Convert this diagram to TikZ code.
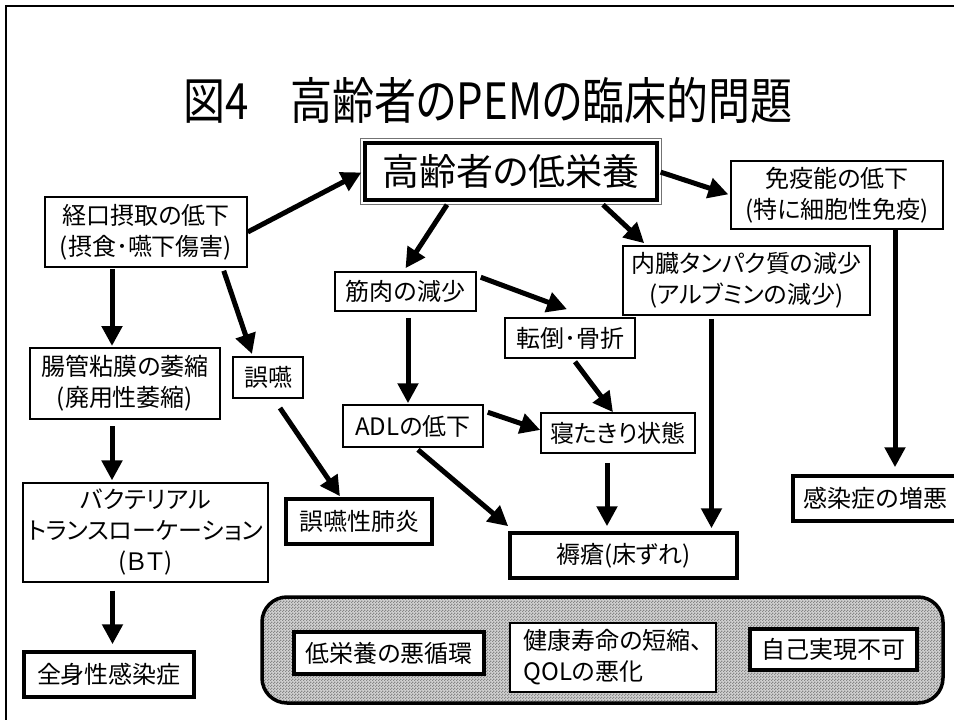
\documentclass[tikz,border=0pt]{standalone}
\usepackage{fontspec}
\setmainfont[RawFeature={+palt}]{Noto Sans CJK JP}
\usetikzlibrary{arrows.meta,calc,patterns}
\pgfdeclarepatternformonly{finechecker}{\pgfpointorigin}{\pgfqpoint{3pt}{3pt}}{\pgfqpoint{3pt}{3pt}}{%
  \pgfpathrectangle{\pgfpointorigin}{\pgfqpoint{1.55pt}{1.55pt}}%
  \pgfpathrectangle{\pgfqpoint{1.5pt}{1.5pt}}{\pgfqpoint{1.55pt}{1.55pt}}%
  \pgfusepath{fill}}
\begin{document}
\begin{tikzpicture}[x=1pt,y=-1pt,
  bx/.style={draw=black, line width=1.5pt, fill=white, align=center, inner sep=0pt,
             font=\fontsize{24pt}{31pt}\selectfont},
  thk/.style={bx, line width=3.5pt},
  sz/.style 2 args={minimum width=#1pt, minimum height=#2pt},
  arr/.style={line width=5pt, -{Triangle[length=20pt,width=20pt]}},
  ttl/.style={inner sep=0pt, font=\fontsize{50pt}{60pt}\selectfont},
]
\fill[white] (0,0) rectangle (954,720);
\clip (0,0) rectangle (954,720);
% frame
\draw[line width=2.5pt] (6,740) -- (6,6) -- (970,6);

% title
\node[ttl] (title) at (488,100) {\scalebox{0.84}[1]{図4　高齢者のPEMの臨床的問題}};

% central node
\node[bx, sz={292}{57}, line width=3.5pt, font=\fontsize{37pt}{44pt}\selectfont] (top) at (511,171.5) {高齢者の低栄養};
\draw[line width=1.2pt, black!55] ($(top.north west)+(-3,-3)$) rectangle ($(top.south east)+(3,3)$);

% left column
\node[bx, sz={202}{70}] (keiko) at (146,232) {経口摂取の低下\\(摂食･嚥下傷害)};
\node[bx, sz={190}{71}, line width=2pt] (choukan) at (125,383.5) {腸管粘膜の萎縮\\(廃用性萎縮)};
\node[bx, sz={70}{41}, line width=2pt] (goen) at (268,377.5) {誤嚥};
\node[bx, sz={245}{99}, line width=1.2pt] (bt) at (145.5,532.5) {バクテリアル\\トランスローケーション\\(ＢＴ)};
\node[thk, sz={170}{45}] (zenshin) at (109,674.5) {全身性感染症};
\node[thk, sz={146}{45}] (haien) at (359,521.5) {誤嚥性肺炎};

% middle
\node[bx, sz={141}{39}] (kinniku) at (405.5,291.5) {筋肉の減少};
\node[bx, sz={130}{40}] (tentou) at (570,338) {転倒･骨折};
\node[bx, sz={140}{42}] (adl) at (413,426) {ADLの低下};
\node[bx, sz={154}{40}] (netakiri) at (618,433) {寝たきり状態};
\node[bx, sz={247}{69}] (naizou) at (746.5,280.5) {内臓タンパク質の減少\\(アルブミンの減少)};
\node[bx, sz={212}{68}] (meneki) at (837,195) {免疫能の低下\\(特に細胞性免疫)};
\node[thk, sz={165}{45}] (kansen) at (875.5,498.5) {感染症の増悪};
\node[thk, sz={227}{45}] (jokusou) at (623.5,555.5) {褥瘡(床ずれ)};

% bottom panel
\node[draw=black, line width=3.5pt, rounded corners=25pt, sz={681}{106},
      preaction={fill=gray!35}, pattern=finechecker, pattern color=gray!95] (panel) at (602.5,650) {};
\node[thk, sz={190}{42}] (akujun) at (389,653) {低栄養の悪循環};
\node[bx, line width=2.5pt, sz={206}{69}, align=left] (kenkou) at (613,657.5) {健康寿命の短縮、\\QOLの悪化};
\node[thk, sz={167}{41}] (jiko) at (833.5,649.5) {自己実現不可};

% arrows
\draw[arr, shorten >=2pt] (keiko.east) -- (top.west);
\draw[arr, shorten <=2pt, shorten >=2pt] (top.east) -- (meneki.west);
\draw[arr] ($(top.south)+(-64,3)$) -- ($(kinniku.north)+(0,-3)$);
\draw[arr] ($(top.south)+(92,3)$) -- ($(naizou.north west)+(22,-2)$);
\draw[arr] ($(kinniku.north east)+(4,6)$) -- ($(tentou.north)+(-3,-8)$);
\coordinate (a6) at ($(kinniku.south)+(2.5,6)$);
\draw[arr, shorten >=1pt] (a6) -- (a6 |- adl.north);
\draw[arr] ($(tentou.south)+(5,3)$) -- ($(netakiri.north)+(-5,0)$);
\draw[arr] ($(adl.north east)+(4,8)$) -- ($(netakiri.west)+(0,-3)$);
\draw[arr] ($(adl.south)+(5,2)$) -- ($(jokusou.north west)+(0,-5)$);
\coordinate (a10) at ($(netakiri.south)+(-11,9)$);
\draw[arr, shorten >=5pt] (a10) -- (a10 |- jokusou.north);
\coordinate (a11) at ($(naizou.south)+(-35,3)$);
\draw[arr, shorten >=3pt] (a11) -- (a11 |- jokusou.north);
\coordinate (a12) at ($(meneki.south)+(58,0)$);
\draw[arr, shorten >=7pt] (a12) -- (a12 |- kansen.north);
\coordinate (a13) at ($(keiko.south)+(-34,1)$);
\draw[arr, shorten >=1pt] (a13) -- (a13 |- choukan.north);
\draw[arr] ($(keiko.south east)+(-24,3)$) -- ($(goen.north west)+(20,-2)$);
\coordinate (a15) at ($(choukan.south)+(-13,6)$);
\draw[arr, shorten >=2pt] (a15) -- (a15 |- bt.north);
\coordinate (a16) at ($(bt.south)+(-33,8)$);
\draw[arr, shorten >=6pt] (a16) -- (a16 |- zenshin.north);
\draw[arr] ($(goen.south)+(12,9)$) -- ($(haien.north)+(-19,-1)$);
\end{tikzpicture}
\end{document}
